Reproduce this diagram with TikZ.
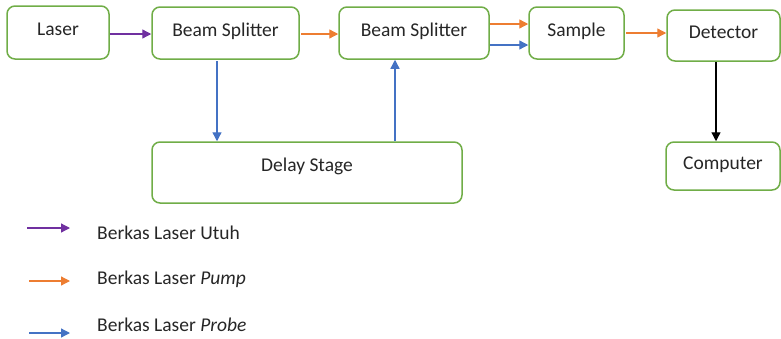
\documentclass[tikz,border=0pt]{standalone}
\usepackage{fontspec}
\setmainfont{Carlito}
\usetikzlibrary{arrows.meta}
\definecolor{boxgreen}{RGB}{112,173,71}
\definecolor{pumporange}{RGB}{237,125,49}
\definecolor{probeblue}{RGB}{68,114,196}
\definecolor{fullpurple}{RGB}{112,48,160}
\definecolor{txt}{RGB}{38,38,38}
\begin{document}
\begin{tikzpicture}[x=1pt,y=-1pt,
  box/.style={draw=boxgreen, line width=1.5pt, rounded corners=8pt, fill=white, text=txt,
    font=\fontsize{19.5pt}{22pt}\selectfont, inner sep=0pt},
  beam/.style={line width=1.3pt, -{Triangle[length=9pt,width=9pt]}},
  legtext/.style={anchor=west, text=txt, font=\fontsize{19.5pt}{22pt}\selectfont, inner sep=0pt}]
\useasboundingbox (0,0) rectangle (781,338);
\node[box, minimum width=102pt, minimum height=53pt] (laser) at (58,32.5) {\raisebox{6pt}{Laser}};
\node[box, minimum width=147pt, minimum height=52pt] (bs1) at (225.5,33) {\raisebox{6pt}{Beam Splitter}};
\node[box, minimum width=150pt, minimum height=52pt] (bs2) at (414,33) {\raisebox{6pt}{Beam Splitter}};
\node[box, minimum width=95pt, minimum height=52pt] (sample) at (576.5,33) {\raisebox{6pt}{Sample}};
\node[box, minimum width=113pt, minimum height=51pt] (det) at (723.5,35.5) {\raisebox{6pt}{Detector}};
\node[box, minimum width=114pt, minimum height=48pt] (comp) at (723,166) {\raisebox{5pt}{Computer}};
\node[box, minimum width=310pt, minimum height=61pt] (delay) at (307,172.5) {\raisebox{16pt}{Delay Stage}};
% connectors
\draw[beam, fullpurple] (laser.east |- 0,34) -- (bs1.west |- 0,34);
\draw[beam, pumporange] (301,34) -- (bs2.west |- 0,34);
\draw[beam, probeblue] (217,61) -- (delay.north -| 217,0);
\draw[beam, probeblue] (delay.north -| 395,0) -- (bs2.south -| 395,0);
\draw[beam, pumporange] (bs2.east |- 0,24) -- (sample.west |- 0,24);
\draw[beam, probeblue] (bs2.east |- 0,45) -- (sample.west |- 0,45);
\draw[beam, pumporange] (626,33) -- (det.west |- 0,33);
\draw[beam, black] (det.south -| 716,0) -- (comp.north -| 716,0);
% legend
\coordinate (l1a) at (27,228); \coordinate (l1b) at (70,228);
\coordinate (l2a) at (29,281); \coordinate (l2b) at (70,281);
\coordinate (l3a) at (29,333); \coordinate (l3b) at (70,333);
\draw[beam, fullpurple] (l1a) -- (l1b);
\draw[beam, pumporange] (l2a) -- (l2b);
\draw[beam, probeblue] (l3a) -- (l3b);
\node[legtext] (t1) at (97,233) {Berkas Laser Utuh};
\node[legtext] (t2) at (97,279) {Berkas Laser \textit{Pump}};
\node[legtext] (t3) at (97,325) {Berkas Laser \textit{Probe}};
\end{tikzpicture}
\end{document}
